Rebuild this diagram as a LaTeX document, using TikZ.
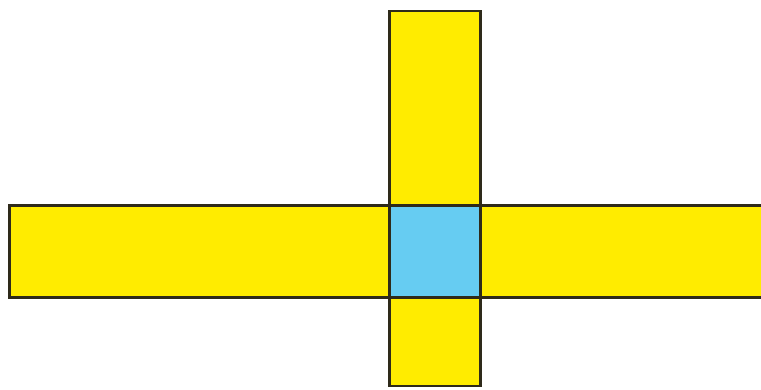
\documentclass[tikz,border=0pt]{standalone}
\definecolor{baryellow}{HTML}{FFEC00}
\definecolor{sqblue}{HTML}{66CCF2}
\definecolor{edgecol}{HTML}{2E2A1A}
\tikzset{
  barbox/.style={fill=baryellow,draw=edgecol,line width=2.2pt},
  centerbox/.style={fill=sqblue,draw=edgecol,line width=2.2pt}
}
\begin{document}
\begin{tikzpicture}[x=1pt,y=-1pt]
\useasboundingbox (0,0) rectangle (761,389);
\fill[white] (0,0) rectangle (761,389);
\path[barbox] (389.5,11) rectangle (480.5,386);
\path[barbox] (9.5,205.5) rectangle (775,297.5);
\path[centerbox] (389.5,205.5) rectangle (480.5,297.5);
\end{tikzpicture}
\end{document}
